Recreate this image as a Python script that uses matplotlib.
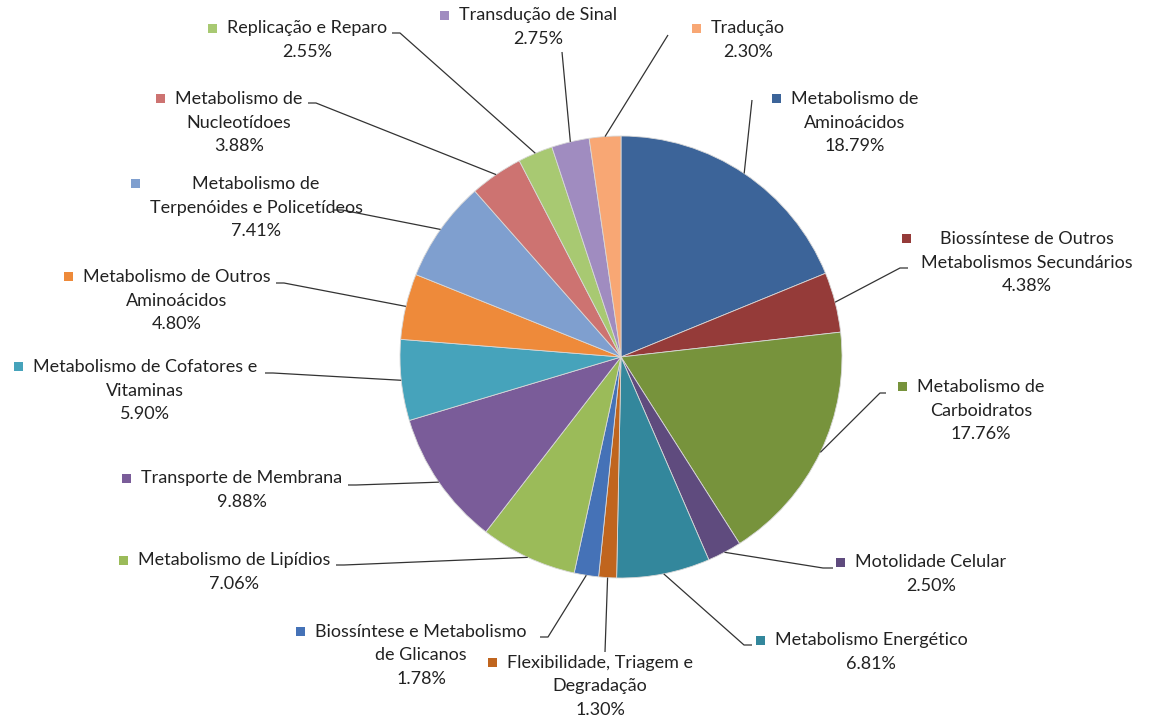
import numpy as np
import matplotlib.pyplot as plt
from matplotlib.patches import Rectangle

plt.rcParams['font.family'] = ['Lato', 'DejaVu Sans']

# Categorias e percentuais (sentido horário a partir do topo)
categorias = [
    "Metabolismo de\nAminoácidos",
    "Biossíntese de Outros\nMetabolismos Secundários",
    "Metabolismo de\nCarboidratos",
    "Motolidade Celular",
    "Metabolismo Energético",
    "Flexibilidade, Triagem e\nDegradação",
    "Biossíntese e Metabolismo\nde Glicanos",
    "Metabolismo de Lipídios",
    "Transporte de Membrana",
    "Metabolismo de Cofatores e\nVitaminas",
    "Metabolismo de Outros\nAminoácidos",
    "Metabolismo de\nTerpenóides e Policetídeos",
    "Metabolismo de\nNucleotídoes",
    "Replicação e Reparo",
    "Transdução de Sinal",
    "Tradução",
]
percentuais = [18.79, 4.38, 17.76, 2.50, 6.81, 1.30, 1.78, 7.06,
               9.88, 5.90, 4.80, 7.41, 3.88, 2.55, 2.75, 2.30]
cores = ["#3C6499", "#953B39", "#77933C", "#5F4B7E", "#33879C", "#C0651E",
         "#4572B7", "#9BBB59", "#7A5C99", "#46A3BB", "#EE8A3A", "#7F9FCF",
         "#CD7371", "#A8C972", "#A08CC0", "#F8A774"]

# posição dos rótulos (centro x, y da primeira linha) em pixels a partir do topo
pos_rotulos = [(855, 98), (1027, 238), (981, 386), (931, 562), (871, 640),
               (600, 662), (421, 631), (234, 560), (242, 478), (145, 366),
               (177, 276), (256, 183), (239, 98), (307, 28), (538, 15), (748, 28)]
# início das linhas de chamada junto ao rótulo e pequeno traço horizontal
ancoras = [(752, 100), (908, 268), (886, 393), (833, 568), (752, 645),
           (605, 652), (540, 637), (336, 565), (348, 485), (265, 373),
           (276, 283), (334, 210), (308, 103), (392, 33), (562, 52), (668, 35)]
tracos = [0, -8, -6, -10, -8, 0, 8, 8, 8, 8, 8, 8, 8, 8, 0, 0]

W, H = 1159, 722
cx, cy, r = 621, 357, 221
passo = 24.5

fig = plt.figure(figsize=(W / 100, H / 100), dpi=100)
ax = fig.add_axes([0, 0, 1, 1])

wedges, _ = ax.pie(percentuais, colors=cores, startangle=90, counterclock=False,
                   center=(cx, H - cy), radius=r,
                   wedgeprops=dict(edgecolor='#d8d8d8', linewidth=0.6))
ax.set_xlim(0, W)
ax.set_ylim(0, H)
ax.set_aspect('equal')
ax.axis('off')

fig.canvas.draw()
renderer = fig.canvas.get_renderer()

for w, cat, pct, cor, (tx, ty), (axx, ayy), tr in zip(
        wedges, categorias, percentuais, cores, pos_rotulos, ancoras, tracos):
    n = cat.count("\n") + 2
    yc = H - (ty + (n - 1) * passo / 2)
    t = ax.text(tx, yc, f"{cat}\n{pct:.2f}%", ha='center', va='center',
                multialignment='center', fontsize=13, color='#222222',
                linespacing=1.58)
    bb = t.get_window_extent(renderer)
    ax.add_patch(Rectangle((bb.x0 - 19, H - ty - 4.5), 9, 9, color=cor, lw=0))

    ang = np.deg2rad((w.theta1 + w.theta2) / 2)
    ex = cx + r * np.cos(ang)
    ey = (H - cy) + r * np.sin(ang)
    xs = [axx, axx + tr, ex]
    ys = [H - ayy, H - ayy, ey]
    ax.plot(xs, ys, color='#333333', lw=0.9, solid_capstyle='butt')

fig.savefig("out.png", dpi=100)
